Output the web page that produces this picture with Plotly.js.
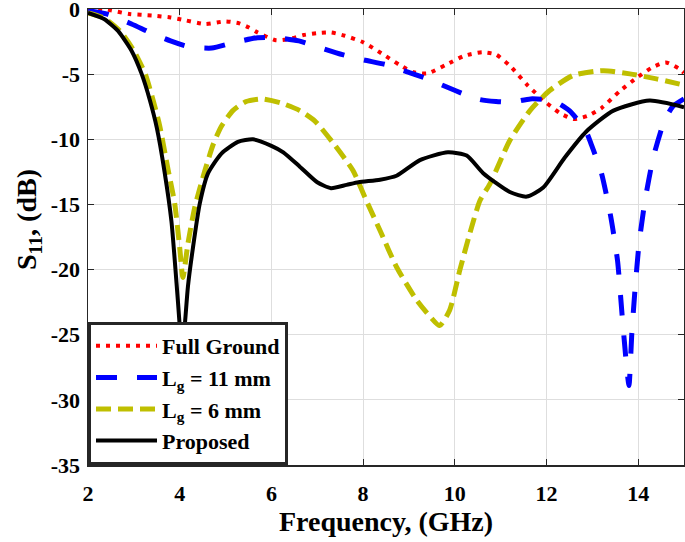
<!DOCTYPE html>
<html>
<head>
<meta charset="utf-8">
<script src="https://cdn.plot.ly/plotly-3.0.1.min.js"></script>
<style>html,body{margin:0;padding:0;background:#fff;}#chart{width:685px;height:542px;}</style>
</head>
<body>
<div id="chart"></div>
<script>
// Full Ground
const fullX = [2.0, 2.4, 2.9, 3.4, 3.8, 4.1, 4.55, 5.0, 5.3, 5.5, 5.7, 6.1, 6.4, 6.7, 7.0, 7.3, 7.6, 8.0, 8.4, 8.8, 9.1, 9.4, 9.8, 10.2, 10.6, 10.9, 11.2, 11.6, 12.0, 12.3, 12.6, 12.9, 13.2, 13.6, 14.0, 14.3, 14.6, 14.9, 15.0];
const fullY = [0, -0.05, -0.38, -0.5, -0.65, -0.85, -1.15, -0.95, -1.1, -1.4, -1.8, -2.4, -2.3, -2.0, -1.85, -1.8, -2.05, -2.55, -3.4, -4.3, -4.85, -4.95, -4.3, -3.6, -3.32, -3.5, -4.35, -5.9, -7.2, -8.0, -8.45, -8.2, -7.6, -6.3, -5.2, -4.5, -4.1, -4.6, -4.9];
// Lg = 11 mm
const lg11X = [2.0, 2.4, 2.95, 3.35, 3.8, 4.2, 4.7, 5.15, 5.7, 6.1, 6.6, 7.05, 7.55, 8.0, 8.5, 8.9, 9.4, 9.8, 10.25, 10.55, 10.9, 11.25, 11.65, 12.15, 12.5, 12.85, 13.0, 13.2, 13.4, 13.55, 13.65, 13.75, 13.8, 13.86, 13.93, 14.02, 14.15, 14.33, 14.55, 14.75, 15.0];
const lg11Y = [-0.13, -0.38, -1.15, -1.8, -2.45, -2.9, -3.0, -2.6, -2.2, -2.2, -2.45, -2.95, -3.5, -3.9, -4.27, -4.75, -5.35, -5.95, -6.6, -6.95, -7.1, -7.15, -6.9, -7.05, -7.8, -9.3, -10.6, -12.6, -15.9, -19.3, -23.5, -27.5, -28.9, -25.0, -21.6, -18.0, -14.7, -11.4, -8.8, -7.5, -6.9];
// Lg = 6 mm
const lg6X = [2.0, 2.35, 2.7, 3.0, 3.25, 3.42, 3.56, 3.75, 3.89, 4.0, 4.07, 4.18, 4.33, 4.55, 4.73, 4.91, 5.16, 5.45, 5.8, 6.2, 6.62, 6.95, 7.35, 7.78, 8.07, 8.37, 8.73, 9.17, 9.46, 9.67, 9.89, 10.11, 10.33, 10.55, 10.77, 11.2, 11.64, 12.07, 12.58, 13.24, 13.82, 14.4, 15.0];
const lg6Y = [-0.3, -0.7, -1.7, -3.2, -5.0, -7.0, -8.9, -12.4, -14.9, -18.3, -20.6, -18.0, -15.2, -12.4, -10.4, -9.0, -7.8, -7.1, -6.9, -7.2, -7.8, -8.6, -10.3, -12.4, -14.7, -17.0, -19.8, -22.35, -23.6, -24.3, -23.1, -20.05, -17.2, -14.7, -13.4, -10.1, -7.8, -6.26, -5.1, -4.73, -4.98, -5.36, -5.85];
// Proposed
const propX = [2.0, 2.35, 2.65, 2.95, 3.17, 3.35, 3.5, 3.67, 3.82, 3.93, 4.0, 4.03, 4.07, 4.11, 4.18, 4.29, 4.44, 4.62, 4.91, 5.27, 5.6, 6.0, 6.26, 6.62, 7.0, 7.3, 7.64, 7.9, 8.37, 8.73, 9.24, 9.85, 10.26, 10.62, 11.2, 11.57, 11.93, 12.4, 12.87, 13.46, 14.25, 15.0];
const propY = [-0.3, -0.77, -1.66, -3.2, -4.98, -7.0, -9.1, -12.5, -16.3, -21.0, -24.3, -26.5, -25.5, -24.3, -21.3, -18.3, -14.9, -12.6, -11.1, -10.2, -10.0, -10.5, -11.0, -12.1, -13.3, -13.75, -13.5, -13.3, -13.1, -12.8, -11.6, -11.0, -11.25, -12.6, -14.05, -14.4, -13.7, -11.4, -9.4, -7.8, -7.03, -7.54];

const seriesNames = ['Full Ground', 'L<sub>g</sub> = 11 mm', 'L<sub>g</sub> = 6 mm', 'Proposed'];
const xTicks = [2, 4, 6, 8, 10, 12, 14];
const yTicks = [-35, -30, -25, -20, -15, -10, -5, 0];

const serif = '"Liberation Serif", "Times New Roman", serif';

function tr(x, y, name, color, dash, width, grp) {
  return {
    x: x, y: y, name: name, type: 'scatter', mode: 'lines',
    legendgroup: grp,
    line: {color: color, dash: dash, width: width, shape: 'spline', smoothing: 0.6}
  };
}

const data = [
  tr(fullX, fullY, seriesNames[0], '#ff0000', '4px,6px', 4, 'a'),
  tr(lg11X, lg11Y, seriesNames[1], '#0000ff', '21px,20px', 5, 'b'),
  tr(lg6X, lg6Y, seriesNames[2], '#bfbf00', '15px,7px', 5, 'c'),
  tr(propX, propY, seriesNames[3], '#000000', 'solid', 4, 'd')
];

const axisCommon = {
  showline: true, linecolor: '#262626', linewidth: 1.5, mirror: 'ticks',
  ticks: 'inside', ticklen: 6, tickcolor: '#262626', tickwidth: 1,
  showgrid: true, gridcolor: '#dedede', gridwidth: 1, zeroline: false,
  ticklabeloverflow: 'allow',
  tickfont: {family: serif, size: 22, color: '#000', weight: 'bold'}
};

const layout = {
  width: 685, height: 542,
  margin: {l: 88, r: 1, t: 9, b: 77},
  paper_bgcolor: '#fff', plot_bgcolor: '#fff',
  showlegend: true,
  xaxis: Object.assign({}, axisCommon, {
    range: [2, 15], tickvals: xTicks, ticktext: xTicks.map(String),
    ticklabelstandoff: 8,
    title: {text: 'Frequency, (GHz)', font: {family: serif, size: 28, color: '#000', weight: 'bold'}, standoff: 6}
  }),
  yaxis: Object.assign({}, axisCommon, {
    range: [-35, 0], tickvals: yTicks, ticktext: yTicks.map(String),
    ticklabelstandoff: 2,
    title: {text: '&nbsp;&nbsp;&nbsp;&nbsp;&nbsp;S<sub>11</sub>, (dB)', font: {family: serif, size: 28, color: '#000', weight: 'bold'}, standoff: 6}
  }),
  legend: {
    x: 0, y: 0, xanchor: 'left', yanchor: 'bottom',
    bgcolor: '#fff', bordercolor: '#262626', borderwidth: 3,
    font: {family: serif, size: 22, color: '#000', weight: 'bold'},
    traceorder: 'grouped', tracegroupgap: 0, itemwidth: 61
  }
};

Plotly.newPlot('chart', data, layout, {displayModeBar: false, staticPlot: true});
</script>
</body>
</html>
